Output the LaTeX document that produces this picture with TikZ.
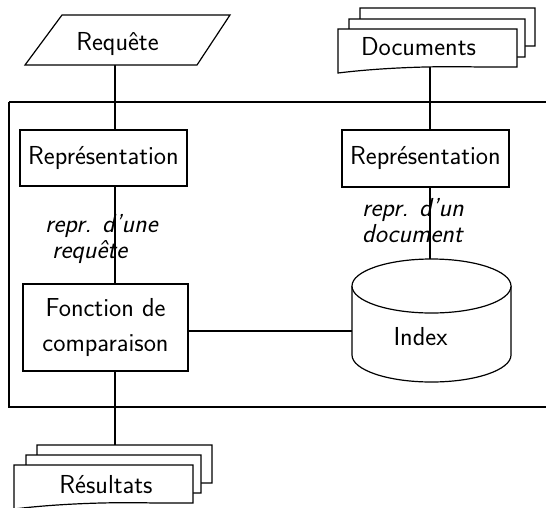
\documentclass[tikz,border=0pt]{standalone}
\usetikzlibrary{calc}

% one sheet of a stacked "document" symbol: x, y of the top-left corner, width
\newcommand\docsheet[3]{%
  \begin{scope}[shift={(#1,#2)}]
    \draw[line, fill=white] (0,0) -- (#3,0) -- (#3,38) -- (#3-39,38)
      .. controls (#3-75,37) and (#3-130,38) .. (0,44) -- cycle;
  \end{scope}}

\begin{document}
\begin{tikzpicture}[x=1pt, y=-1pt,
  line/.style={line width=1.2pt},
  box/.style={draw, line width=1.2pt, fill=white, inner sep=0pt, align=center,
    font=\sffamily\fontsize{26}{35}\selectfont},
  txt/.style={inner sep=0pt, anchor=base, font=\sffamily\fontsize{26}{29}\selectfont},
  lbl/.style={inner sep=0pt, align=left, anchor=base west,
    font=\sffamily\itshape\fontsize{26}{26}\selectfont}]
\useasboundingbox (0,0) rectangle (546,507);

% enclosing system frame (runs off to the right)
\draw[line] (9,102) -- (560,102) (9,102) -- (9,407) -- (560,407);

% connector end points on the hand-drawn shapes
\coordinate (reqbot) at (115,65);
\coordinate (docbot) at (430,66.5);
\coordinate (idxtop) at (430,259);
\coordinate (idxleft) at (352,331);
\coordinate (restop) at (115,445);

% boxes
\node[box, minimum width=167, minimum height=56] (rep1) at (103.5,158) {Représentation};
\node[box, minimum width=167, minimum height=57] (rep2) at (425.5,158.5) {Représentation};
\node[box, minimum width=165, minimum height=87] (fct) at (105.5,327.5) {Fonction de\\comparaison};

% connectors
\draw[line] (reqbot) -- (reqbot |- rep1.north);
\draw[line] (reqbot |- rep1.south) -- (reqbot |- fct.north);
\draw[line] (reqbot |- fct.south) -- (restop);
\draw[line] (docbot) -- (docbot |- rep2.north);
\draw[line] (docbot |- rep2.south) -- (idxtop);
\draw[line] (fct.east |- idxleft) -- (idxleft);

% query: parallelogram
\draw[line, fill=white] (62,15) -- (230,15) -- (197,65) -- (25,65) -- cycle;
\node[txt] (req) at (117.5,50) {Requête};

% document collection: stacked sheets
\docsheet{360}{8}{175}
\docsheet{349}{19}{176}
\docsheet{338}{29}{179}
\node[txt] (docs) at (418.5,55) {Documents};

% results: stacked sheets
\docsheet{37}{445}{175}
\docsheet{26}{455}{175}
\docsheet{14}{465}{179}
\node[txt] (res) at (106,493) {Résultats};

% index: cylinder
\draw[line, fill=white] (352,286) -- (352,355)
  arc[start angle=180, end angle=0, x radius=79.5, y radius=27]
  -- (511,286);
\draw[line, fill=white] (431.5,286) ellipse[x radius=79.5, y radius=27];
\node[txt] (idx) at (420.5,345) {Index};

% flow labels (anchored on the baseline of the last line)
\node[lbl] (lq) at (45,258) {repr. d'une\\\hspace*{7pt}requête};
\node[lbl] (ld) at (362,242) {repr. d'un\\document};
\end{tikzpicture}
\end{document}
